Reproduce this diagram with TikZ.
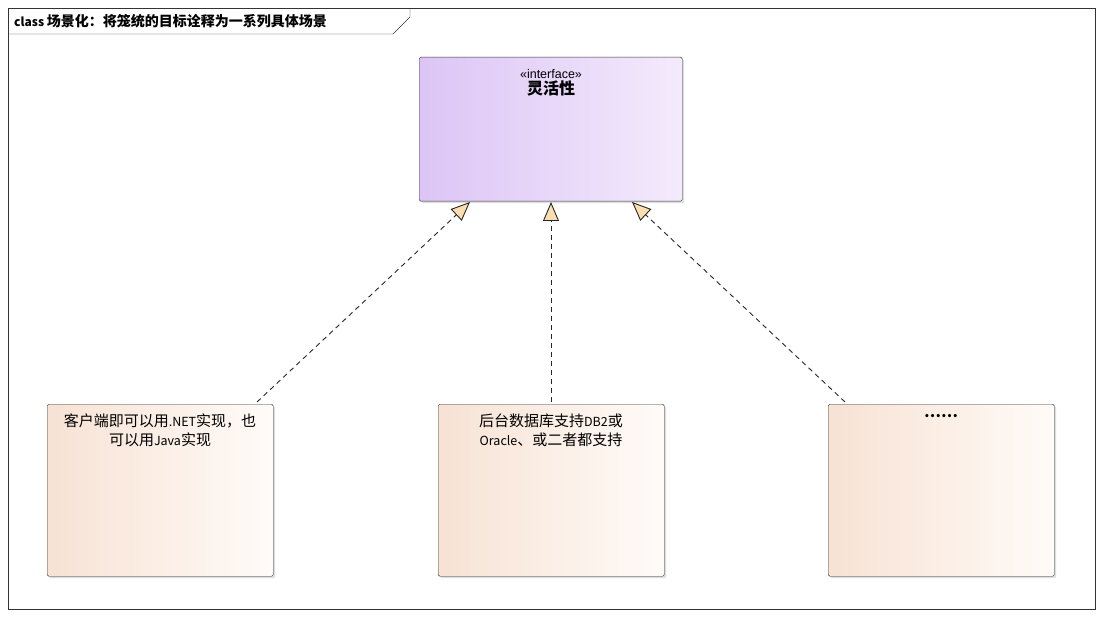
\documentclass[tikz,border=0pt]{standalone}
\usepackage{fontspec}
\setmainfont{Liberation Sans}
\newfontfamily\cjk{Noto Sans CJK SC}
\usetikzlibrary{positioning,shadows,arrows.meta}
\definecolor{ifleft}{HTML}{DCC5F6}
\definecolor{ifright}{HTML}{F4EAFC}
\definecolor{scleft}{HTML}{F7E2D4}
\definecolor{scright}{HTML}{FFFBF8}
\definecolor{tipfill}{HTML}{FBDDB0}
\tikzset{
  ifbox/.style={draw=black!80, rounded corners=1.5pt, left color=ifleft, right color=ifright,
    minimum width=263pt, minimum height=144pt, anchor=north west,
    drop shadow={shadow xshift=2pt, shadow yshift=-2pt, fill=black!25}},
  scbox/.style={draw=black!80, rounded corners=1.5pt, left color=scleft, right color=scright,
    minimum width=226pt, minimum height=172pt, anchor=north west,
    drop shadow={shadow xshift=2pt, shadow yshift=-2pt, fill=black!25}},
  btext/.style={font=\cjk\fontsize{15}{19}\selectfont, align=center, text width=222pt, inner sep=0pt},
  realize/.style={dash pattern=on 5pt off 4pt, line width=0.9pt, black!85,
    -{Triangle[open, fill=tipfill, length=19pt, width=16pt]}}
}
\begin{document}
\begin{tikzpicture}[x=1pt,y=-1pt]
	%% page and frame
	\useasboundingbox (0,0) rectangle (1102,617);
	\fill[white] (0,0) rectangle (1102,617);
	\draw[black!80] (8,8) rectangle (1095,609);
	\draw[black!80] (8,34) -- (393,34) -- (410,17) -- (410,8);
	\node[anchor=west, inner sep=0pt, font=\cjk\fontsize{14}{17}\selectfont] (title) at (14,21)
	  {\fontsize{12}{14}\selectfont\bfseries class \fontsize{14}{17}\selectfont 场景化：将笼统的目标诠释为一系列具体场景};

	%% interface
	\node[ifbox] (flex) at (419,57) {};
	\node[font=\fontsize{12.5}{14}\selectfont, inner sep=0pt] (stereo) at (551,74) {«interface»};
	\node[btext, font=\cjk\bfseries\fontsize{16}{19}\selectfont, below=2pt of stereo] (flexname) {灵活性};
	\coordinate (tipnet) at (470,202);
	\coordinate (tipdb) at (551,202);
	\coordinate (tipmore) at (632,202);

	%% scenarios
	\node[scbox] (net) at (47,404) {};
	\node[scbox] (db) at (438,404) {};
	\node[scbox] (more) at (828,404) {};
	\node[btext, anchor=north] (nettext) at (160,414) {客户端即可以用\fontsize{12.5}{19}\selectfont.NET\fontsize{15}{19}\selectfont 实现，也\\可以用\fontsize{12.5}{19}\selectfont Java\fontsize{15}{19}\selectfont 实现};
	\node[btext, anchor=north] (dbtext) at (551,414) {后台数据库支持\fontsize{12.5}{19}\selectfont DB2\fontsize{15}{19}\selectfont 或\\\fontsize{12.5}{19}\selectfont Oracle\fontsize{15}{19}\selectfont 、或二者都支持};
	\node[btext, anchor=north] (moretext) at (941,414) {\bfseries ……};

	%% realizations
	\coordinate (netend) at (257,402);
	\coordinate (dbend) at (551,402);
	\coordinate (moreend) at (845,402);
	\draw[realize] (netend) -- (tipnet);
	\draw[realize] (dbend) -- (tipdb);
	\draw[realize] (moreend) -- (tipmore);
\end{tikzpicture}
\end{document}
